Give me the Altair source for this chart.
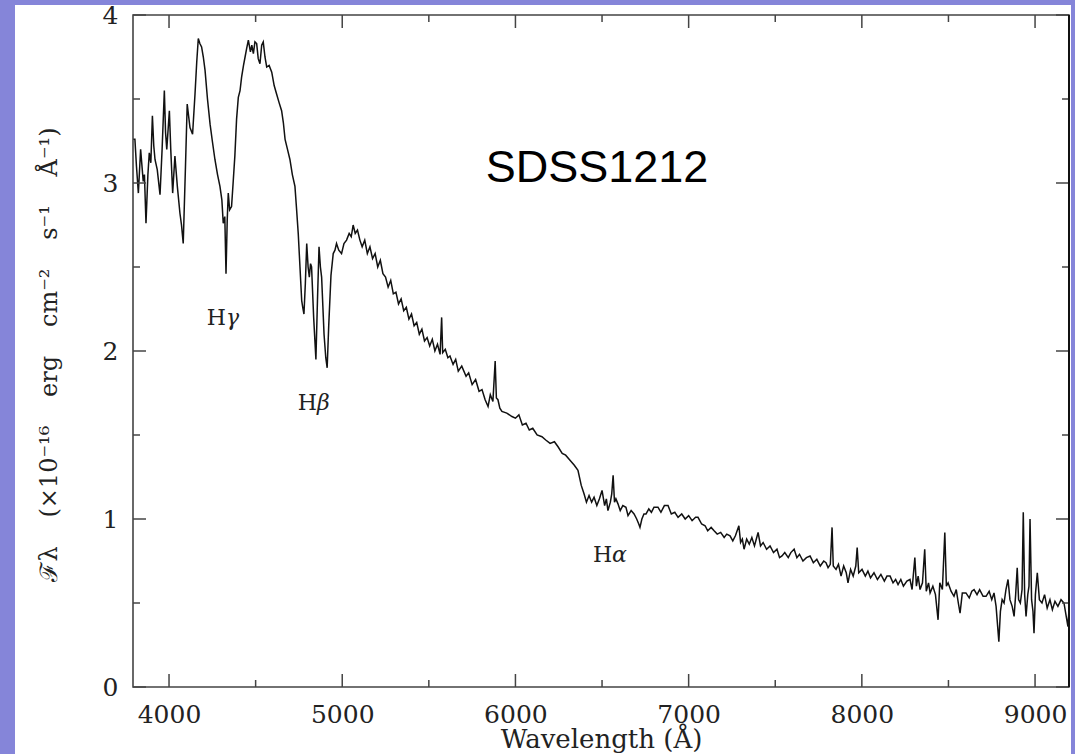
import altair as alt
import pandas as pd

# ---- spectrum ----
wavelength = [
    3792, 3803, 3812, 3823, 3836, 3851, 3858, 3867, 3878, 3886, 3895, 3904, 3912, 3919, 3932, 3948,
    3960, 3973, 3980, 3987, 4002, 4010, 4021, 4034, 4048, 4063, 4072, 4082, 4095, 4105, 4113, 4121,
    4136, 4150, 4160, 4169, 4178, 4188, 4198, 4208, 4222, 4237, 4250, 4265, 4280, 4294, 4305, 4313,
    4322, 4329, 4336, 4342, 4350, 4361, 4370, 4380, 4390, 4400, 4410, 4419, 4430, 4439, 4448, 4458,
    4470, 4478, 4487, 4496, 4506, 4515, 4525, 4535, 4544, 4554, 4564, 4578, 4593, 4607, 4621, 4635,
    4650, 4660, 4670, 4684, 4698, 4712, 4727, 4736, 4746, 4756, 4766, 4772, 4779, 4787, 4795, 4803,
    4810, 4817, 4823, 4835, 4848, 4857, 4866, 4874, 4881, 4895, 4905, 4913, 4922, 4935, 4948, 4958,
    4967, 4980, 4996, 5010, 5025, 5040, 5052, 5063, 5075, 5088, 5102, 5115, 5130, 5145, 5160, 5175,
    5190, 5205, 5220, 5235, 5250, 5265, 5280, 5295, 5310, 5325, 5340, 5355, 5370, 5385, 5400, 5415,
    5430, 5445, 5460, 5475, 5490, 5505, 5520, 5535, 5550, 5565, 5574, 5580, 5595, 5610, 5622, 5640,
    5655, 5670, 5690, 5715, 5730, 5750, 5770, 5790, 5807, 5825, 5842, 5855, 5870, 5883, 5890, 5899,
    5910, 5922, 5950, 5980, 6000, 6020, 6040, 6061, 6080, 6100, 6125, 6153, 6175, 6200, 6225, 6246,
    6270, 6290, 6315, 6340, 6361, 6380, 6396, 6410, 6425, 6440, 6454, 6470, 6485, 6500, 6515, 6525,
    6534, 6548, 6556, 6564, 6572, 6580, 6592, 6605, 6620, 6638, 6650, 6668, 6685, 6700, 6712, 6719,
    6730, 6742, 6754, 6770, 6785, 6800, 6823, 6840, 6860, 6881, 6900, 6920, 6939, 6960, 6980, 7000,
    7020, 7040, 7054, 7075, 7095, 7110, 7130, 7147, 7165, 7185, 7205, 7220, 7239, 7255, 7270, 7290,
    7300, 7310, 7320, 7335, 7350, 7365, 7380, 7401, 7415, 7430, 7450, 7470, 7490, 7510, 7525, 7539,
    7555, 7575, 7590, 7609, 7625, 7640, 7660, 7680, 7701, 7720, 7740, 7760, 7780, 7793, 7805, 7818,
    7828, 7835, 7851, 7865, 7880, 7895, 7910, 7920, 7935, 7950, 7965, 7973, 7982, 8001, 8020, 8035,
    8050, 8070, 8090, 8110, 8130, 8145, 8163, 8180, 8195, 8209, 8225, 8240, 8260, 8278, 8290, 8306,
    8315, 8325, 8336, 8350, 8363, 8372, 8385, 8394, 8410, 8425, 8440, 8450, 8465, 8479, 8488, 8498,
    8515, 8532, 8545, 8557, 8567, 8580, 8601, 8620, 8635, 8648, 8665, 8680, 8700, 8717, 8735, 8750,
    8763, 8775, 8791, 8800, 8810, 8821, 8832, 8844, 8855, 8868, 8879, 8888, 8897, 8905, 8915, 8925,
    8932, 8940, 8948, 8958, 8965, 8971, 8980, 8988, 8994, 9002, 9013, 9025, 9040, 9055, 9070, 9086,
    9100, 9115, 9132, 9150, 9167, 9180, 9190, 9196,
]
flux = [
    3.26, 3.26, 3.10, 2.94, 3.20, 3.01, 3.05, 2.76, 3.05, 3.18, 3.12, 3.40, 3.22, 3.14, 3.08, 2.93,
    3.20, 3.55, 3.30, 3.20, 3.43, 3.20, 2.94, 3.16, 2.98, 2.82, 2.75, 2.64, 3.10, 3.47, 3.40, 3.33,
    3.29, 3.53, 3.72, 3.86, 3.83, 3.81, 3.75, 3.67, 3.50, 3.35, 3.25, 3.14, 3.05, 2.98, 2.90, 2.76,
    2.80, 2.46, 2.78, 2.94, 2.84, 2.86, 3.00, 3.16, 3.38, 3.51, 3.55, 3.63, 3.70, 3.75, 3.80, 3.85,
    3.78, 3.82, 3.77, 3.84, 3.83, 3.74, 3.71, 3.82, 3.84, 3.75, 3.69, 3.70, 3.66, 3.58, 3.53, 3.48,
    3.43, 3.36, 3.26, 3.20, 3.14, 3.05, 2.98, 2.85, 2.70, 2.50, 2.30, 2.26, 2.22, 2.40, 2.64, 2.50,
    2.44, 2.52, 2.50, 2.20, 1.95, 2.30, 2.62, 2.50, 2.44, 2.10, 1.96, 1.90, 2.15, 2.45, 2.58, 2.60,
    2.64, 2.60, 2.58, 2.64, 2.66, 2.70, 2.68, 2.75, 2.70, 2.72, 2.66, 2.62, 2.66, 2.58, 2.62, 2.55,
    2.58, 2.50, 2.54, 2.46, 2.44, 2.38, 2.42, 2.34, 2.35, 2.28, 2.31, 2.24, 2.26, 2.19, 2.22, 2.15,
    2.17, 2.10, 2.13, 2.06, 2.08, 2.03, 2.07, 2.00, 2.04, 1.98, 2.20, 1.99, 2.01, 1.96, 1.97, 1.92,
    1.95, 1.88, 1.91, 1.85, 1.87, 1.80, 1.83, 1.76, 1.77, 1.71, 1.67, 1.74, 1.70, 1.94, 1.72, 1.71,
    1.66, 1.64, 1.63, 1.61, 1.60, 1.62, 1.56, 1.57, 1.53, 1.54, 1.50, 1.49, 1.47, 1.45, 1.46, 1.43,
    1.39, 1.38, 1.35, 1.32, 1.29, 1.20, 1.15, 1.10, 1.14, 1.10, 1.13, 1.08, 1.12, 1.17, 1.08, 1.12,
    1.05, 1.10, 1.15, 1.26, 1.10, 1.12, 1.09, 1.05, 1.08, 1.07, 1.02, 1.05, 1.03, 1.00, 0.97, 0.95,
    1.00, 1.03, 1.03, 1.06, 1.04, 1.07, 1.07, 1.04, 1.08, 1.08, 1.03, 1.04, 1.01, 1.03, 1.00, 1.02,
    0.99, 1.01, 1.01, 0.97, 0.96, 0.93, 0.95, 0.93, 0.91, 0.92, 0.89, 0.91, 0.90, 0.87, 0.90, 0.96,
    0.86, 0.88, 0.82, 0.88, 0.85, 0.89, 0.84, 0.92, 0.84, 0.86, 0.82, 0.84, 0.80, 0.82, 0.77, 0.78,
    0.80, 0.77, 0.80, 0.82, 0.77, 0.79, 0.75, 0.77, 0.78, 0.74, 0.76, 0.72, 0.75, 0.74, 0.71, 0.73,
    0.95, 0.72, 0.70, 0.73, 0.66, 0.72, 0.68, 0.62, 0.70, 0.66, 0.72, 0.83, 0.68, 0.70, 0.66, 0.69,
    0.65, 0.68, 0.64, 0.67, 0.63, 0.66, 0.66, 0.62, 0.64, 0.61, 0.64, 0.60, 0.63, 0.64, 0.58, 0.77,
    0.60, 0.66, 0.58, 0.62, 0.82, 0.57, 0.62, 0.56, 0.60, 0.55, 0.40, 0.62, 0.58, 0.92, 0.60, 0.62,
    0.57, 0.54, 0.58, 0.50, 0.44, 0.56, 0.56, 0.53, 0.57, 0.58, 0.55, 0.58, 0.54, 0.54, 0.57, 0.52,
    0.56, 0.48, 0.27, 0.45, 0.52, 0.50, 0.58, 0.64, 0.52, 0.48, 0.42, 0.55, 0.71, 0.52, 0.50, 0.58,
    1.04, 0.55, 0.42, 0.55, 0.60, 1.00, 0.52, 0.45, 0.32, 0.55, 0.68, 0.52, 0.50, 0.55, 0.47, 0.52,
    0.46, 0.51, 0.48, 0.52, 0.50, 0.42, 0.36, 0.46,
]

# ---- axes ----
x_domain = [3792, 9196]
y_domain = [0, 4]
x_major = [4000, 5000, 6000, 7000, 8000, 9000]
x_minor = [4500, 5500, 6500, 7500, 8500]
y_major = [0, 1, 2, 3, 4]
y_minor = [0.5, 1.5, 2.5, 3.5]
x_title = "Wavelength (Å)"
GAP = "\u2003\u2009"
y_title = "ℱλ" + GAP + "(×10⁻¹⁶" + GAP + "erg" + GAP + "cm⁻²" + GAP + "s⁻¹" + GAP + "Å⁻¹)"

# ---- annotations ----
name_text = ["SDSS1212"]
name_wl = [6471]
name_flux = [3.006]
line_h = ["H", "H", "H"]
line_greek = ["γ", "β", "α"]
line_wl = [4329, 4854, 6558]
line_flux = [2.155, 1.649, 0.746]

W, H = 936, 672
SERIF = "DejaVu Serif"

spec = pd.DataFrame({"wl": wavelength, "f": flux})
xs = alt.Scale(domain=x_domain, nice=False, zero=False)
ys = alt.Scale(domain=y_domain, nice=False, zero=False)

panel = alt.Chart(pd.DataFrame({"a": [0]})).mark_rect(color="white").encode(
    x=alt.value(-118), x2=alt.value(W + 2), y=alt.value(-10), y2=alt.value(H + 80)
)

line = alt.Chart(spec).mark_line(color="#111111", strokeWidth=1.5, clip=True).encode(
    x=alt.X("wl:Q", scale=xs, axis=alt.Axis(
        values=x_major, ticks=False, domain=False, grid=False, format="d", zindex=5,
        labelFont=SERIF, labelFontSize=25, labelColor="#222222", labelPadding=15,
        title=x_title, titleFont=SERIF, titleFontSize=26, titleFontWeight="normal",
        titleColor="#222222", titleBaseline="alphabetic", titleY=60)),
    y=alt.Y("f:Q", scale=ys, axis=alt.Axis(
        values=y_major, ticks=False, domain=False, grid=False, format="d", zindex=5,
        labelFont=SERIF, labelFontSize=25, labelColor="#222222", labelPadding=15,
        title=y_title, titleFont=SERIF, titleFontSize=24, titleFontWeight="normal",
        titleColor="#222222", titleAngle=270, titleBaseline="alphabetic",
        titleAlign="center", titleX=-77, titleY=339)),
)

def xticks(vals, y0, y1):
    return alt.Chart(pd.DataFrame({"v": vals})).mark_rule(color="#444444", strokeWidth=1.5).encode(
        x=alt.X("v:Q", scale=xs), y=alt.value(y0), y2=alt.value(y1))

def yticks(vals, x0, x1):
    return alt.Chart(pd.DataFrame({"v": vals})).mark_rule(color="#444444", strokeWidth=1.5).encode(
        y=alt.Y("v:Q", scale=ys), x=alt.value(x0), x2=alt.value(x1))

ticks = [
    xticks(x_major, H, H - 13), xticks(x_minor, H, H - 7),
    xticks(x_major, 0, 13), xticks(x_minor, 0, 7),
    yticks(y_major, 0, 13), yticks(y_minor, 0, 7),
    yticks(y_major, W, W - 13), yticks(y_minor, W, W - 7),
]

frame = alt.Chart(pd.DataFrame({"a": [0]})).mark_rect(
    filled=False, stroke="#444444", strokeWidth=1.6
).encode(x=alt.value(0), x2=alt.value(W), y=alt.value(0), y2=alt.value(H))

right_edge = alt.Chart(pd.DataFrame({"a": [0]})).mark_rule(color="#111111", strokeWidth=2).encode(
    x=alt.value(W), y=alt.value(0), y2=alt.value(H)
)

name = alt.Chart(pd.DataFrame({"t": name_text, "wl": name_wl, "f": name_flux})).mark_text(
    font="Liberation Sans", fontSize=45, color="black", align="center", baseline="alphabetic"
).encode(x=alt.X("wl:Q", scale=xs), y=alt.Y("f:Q", scale=ys), text="t:N")

lines_df = pd.DataFrame({"h": line_h, "g": line_greek, "wl": line_wl, "f": line_flux})
h_txt = alt.Chart(lines_df).mark_text(
    font=SERIF, fontSize=22, color="#222222", align="right", baseline="alphabetic"
).encode(x=alt.X("wl:Q", scale=xs), y=alt.Y("f:Q", scale=ys), text="h:N")
g_txt = alt.Chart(lines_df).mark_text(
    font=SERIF, fontSize=22, fontStyle="italic", color="#222222", align="left", baseline="alphabetic"
).encode(x=alt.X("wl:Q", scale=xs), y=alt.Y("f:Q", scale=ys), text="g:N")

chart = alt.layer(panel, line, *ticks, frame, right_edge, name, h_txt, g_txt).properties(
    width=W, height=H,
    autosize=alt.AutoSizeParams(type="none"),
    padding={"left": 133, "top": 15, "right": 6, "bottom": 67},
    background="#8585d9",
).configure_view(stroke=None)

chart.save("out.html", embed_options={"renderer": "svg", "actions": False})
